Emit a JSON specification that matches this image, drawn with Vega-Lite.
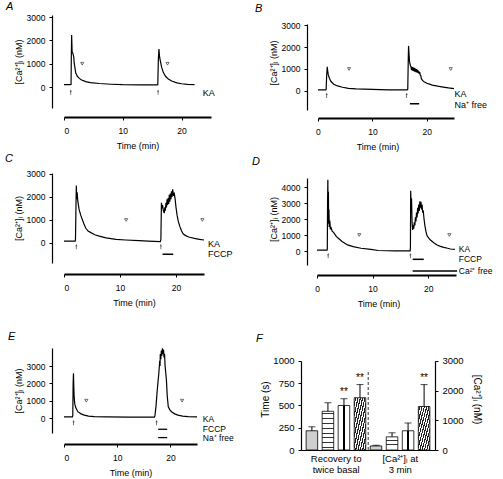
{
 "$schema": "https://vega.github.io/schema/vega-lite/v6.json",
 "padding": {"left": 5, "top": 1, "right": 0, "bottom": 0},
 "background": "white",
 "config": {
  "font": "Liberation Sans",
  "view": {"stroke": null},
  "axis": {"domainColor": "#000", "domainWidth": 1.2, "tickColor": "#000", "tickSize": 3, "labelColor": "#000", "labelFontSize": 8.5, "titleColor": "#000", "titleFontSize": 9, "titleFontWeight": "normal", "grid": false, "labelPadding": 4, "titlePadding": 3, "labelOverlap": false, "labelBound": false},
  "axisX": {"labelPadding": 6, "titlePadding": 7, "domainWidth": 2},
  "title": {"fontSize": 11, "fontStyle": "italic", "fontWeight": "normal", "anchor": "start", "frame": "group", "color": "#000"},
  "text": {"color": "#000"}
 },
 "datasets": {
  "trA": [{"t":0,"ca":100},{"t":1.0,"ca":100},{"t":1.2,"ca":110},{"t":1.25,"ca":1400},{"t":1.3,"ca":2230},{"t":1.38,"ca":1500},{"t":1.5,"ca":1450},{"t":1.65,"ca":1300},{"t":1.75,"ca":1000},{"t":2.0,"ca":600},{"t":2.3,"ca":450},{"t":2.6,"ca":370},{"t":3.0,"ca":300},{"t":3.7,"ca":230},{"t":4.5,"ca":190},{"t":6,"ca":150},{"t":8,"ca":120},{"t":10,"ca":100},{"t":13,"ca":90},{"t":15.8,"ca":90},{"t":15.95,"ca":100},{"t":16.05,"ca":1200},{"t":16.15,"ca":1630},{"t":16.25,"ca":1300},{"t":16.4,"ca":1100},{"t":16.6,"ca":850},{"t":16.9,"ca":620},{"t":17.3,"ca":450},{"t":17.8,"ca":330},{"t":18.4,"ca":250},{"t":19.2,"ca":180},{"t":20,"ca":140},{"t":21,"ca":110},{"t":22.2,"ca":100}],
  "trB": [{"t":0,"ca":50},{"t":1.4,"ca":50},{"t":1.5,"ca":60},{"t":1.6,"ca":700},{"t":1.7,"ca":1100},{"t":1.8,"ca":900},{"t":1.9,"ca":730},{"t":2.1,"ca":580},{"t":2.4,"ca":430},{"t":2.9,"ca":310},{"t":3.6,"ca":230},{"t":4.5,"ca":170},{"t":5.6,"ca":120},{"t":7,"ca":95},{"t":10,"ca":75},{"t":13,"ca":55},{"t":16.4,"ca":50},{"t":16.5,"ca":80},{"t":16.6,"ca":1500},{"t":16.65,"ca":2050},{"t":16.75,"ca":1600},{"t":16.85,"ca":1300},{"t":17.0,"ca":1150},{"t":17.1,"ca":1100},{"t":17.2,"ca":950},{"t":17.3,"ca":1100},{"t":17.4,"ca":920},{"t":17.5,"ca":1080},{"t":17.6,"ca":900},{"t":17.7,"ca":1050},{"t":17.8,"ca":880},{"t":17.9,"ca":1020},{"t":18.0,"ca":860},{"t":18.1,"ca":1000},{"t":18.2,"ca":840},{"t":18.3,"ca":960},{"t":18.4,"ca":820},{"t":18.5,"ca":920},{"t":18.6,"ca":780},{"t":18.7,"ca":860},{"t":18.8,"ca":720},{"t":18.9,"ca":700},{"t":19.0,"ca":560},{"t":19.2,"ca":480},{"t":19.5,"ca":420},{"t":20,"ca":350},{"t":20.5,"ca":310},{"t":21,"ca":270},{"t":22,"ca":220},{"t":23,"ca":180},{"t":24,"ca":140},{"t":25,"ca":110}],
  "trC": [{"t":0,"ca":80},{"t":2.0,"ca":80},{"t":2.05,"ca":150},{"t":2.15,"ca":1800},{"t":2.2,"ca":2500},{"t":2.28,"ca":1900},{"t":2.35,"ca":2200},{"t":2.45,"ca":1850},{"t":2.7,"ca":1450},{"t":3.0,"ca":1200},{"t":3.3,"ca":1000},{"t":3.6,"ca":800},{"t":3.9,"ca":640},{"t":4.3,"ca":520},{"t":4.8,"ca":450},{"t":5.5,"ca":360},{"t":6.3,"ca":300},{"t":7.5,"ca":220},{"t":9.3,"ca":160},{"t":11,"ca":130},{"t":13.4,"ca":100},{"t":15,"ca":80},{"t":17.2,"ca":60},{"t":17.3,"ca":150},{"t":17.4,"ca":1750},{"t":17.5,"ca":1500},{"t":17.6,"ca":1650},{"t":17.75,"ca":1400},{"t":17.9,"ca":1300},{"t":18.0,"ca":1550},{"t":18.1,"ca":1400},{"t":18.2,"ca":1750},{"t":18.3,"ca":1550},{"t":18.4,"ca":1900},{"t":18.5,"ca":1650},{"t":18.6,"ca":1950},{"t":18.7,"ca":1700},{"t":18.8,"ca":2100},{"t":18.9,"ca":1800},{"t":19.0,"ca":2150},{"t":19.1,"ca":1900},{"t":19.2,"ca":2250},{"t":19.3,"ca":2000},{"t":19.4,"ca":2330},{"t":19.55,"ca":2100},{"t":19.7,"ca":2150},{"t":19.85,"ca":1900},{"t":20.0,"ca":1550},{"t":20.2,"ca":1200},{"t":20.4,"ca":950},{"t":20.7,"ca":710},{"t":21.0,"ca":520},{"t":21.3,"ca":390},{"t":21.8,"ca":310},{"t":22.4,"ca":250},{"t":23.3,"ca":200},{"t":24.2,"ca":160},{"t":25,"ca":130}],
  "trD": [{"t":0,"ca":50},{"t":1.8,"ca":50},{"t":1.85,"ca":100},{"t":1.9,"ca":3000},{"t":1.95,"ca":4450},{"t":2.0,"ca":2000},{"t":2.05,"ca":3700},{"t":2.1,"ca":1700},{"t":2.15,"ca":2600},{"t":2.2,"ca":1500},{"t":2.3,"ca":1900},{"t":2.4,"ca":1350},{"t":2.5,"ca":1500},{"t":2.7,"ca":1250},{"t":3.0,"ca":1150},{"t":3.5,"ca":900},{"t":4.0,"ca":750},{"t":4.5,"ca":600},{"t":5.0,"ca":480},{"t":5.5,"ca":380},{"t":6.5,"ca":270},{"t":7.9,"ca":170},{"t":9.7,"ca":100},{"t":11,"ca":30},{"t":14,"ca":10},{"t":16.75,"ca":10},{"t":16.8,"ca":200},{"t":16.85,"ca":3770},{"t":16.95,"ca":2500},{"t":17.0,"ca":3300},{"t":17.1,"ca":1800},{"t":17.2,"ca":1310},{"t":17.3,"ca":1600},{"t":17.4,"ca":1400},{"t":17.5,"ca":1800},{"t":17.6,"ca":1600},{"t":17.7,"ca":2100},{"t":17.8,"ca":1850},{"t":17.9,"ca":2400},{"t":18.0,"ca":2100},{"t":18.1,"ca":2700},{"t":18.2,"ca":2350},{"t":18.3,"ca":2900},{"t":18.4,"ca":2500},{"t":18.5,"ca":3100},{"t":18.6,"ca":2700},{"t":18.7,"ca":3080},{"t":18.8,"ca":2600},{"t":18.9,"ca":2900},{"t":19.0,"ca":2400},{"t":19.1,"ca":2550},{"t":19.25,"ca":2000},{"t":19.4,"ca":1600},{"t":19.6,"ca":1210},{"t":19.8,"ca":950},{"t":20.1,"ca":800},{"t":20.4,"ca":690},{"t":21,"ca":520},{"t":21.6,"ca":375},{"t":22.2,"ca":290},{"t":22.8,"ca":230},{"t":23.5,"ca":170},{"t":24,"ca":125},{"t":24.8,"ca":100}],
  "trE": [{"t":0,"ca":60},{"t":1.6,"ca":60},{"t":1.65,"ca":150},{"t":1.72,"ca":2000},{"t":1.78,"ca":2580},{"t":1.84,"ca":1800},{"t":1.9,"ca":1300},{"t":2.0,"ca":850},{"t":2.2,"ca":600},{"t":2.6,"ca":365},{"t":3.2,"ca":240},{"t":3.8,"ca":170},{"t":4.6,"ca":110},{"t":5.7,"ca":77},{"t":8,"ca":60},{"t":12,"ca":55},{"t":17.0,"ca":50},{"t":17.1,"ca":150},{"t":17.3,"ca":700},{"t":17.5,"ca":1500},{"t":17.7,"ca":2190},{"t":17.8,"ca":2500},{"t":17.9,"ca":2900},{"t":18.0,"ca":3300},{"t":18.05,"ca":3000},{"t":18.1,"ca":3700},{"t":18.2,"ca":3400},{"t":18.3,"ca":3900},{"t":18.4,"ca":3600},{"t":18.5,"ca":4020},{"t":18.6,"ca":3700},{"t":18.7,"ca":3950},{"t":18.8,"ca":3500},{"t":18.9,"ca":3700},{"t":19.0,"ca":3000},{"t":19.1,"ca":2700},{"t":19.25,"ca":2190},{"t":19.4,"ca":1300},{"t":19.6,"ca":650},{"t":19.9,"ca":470},{"t":20.2,"ca":365},{"t":20.8,"ca":240},{"t":21.4,"ca":170},{"t":22.3,"ca":110},{"t":23.3,"ca":77},{"t":25,"ca":60}],
  "anA": [{"kind":"stim","t":1.15,"ca":-220},{"kind":"stim","t":16.0,"ca":-220},{"kind":"rec","t":3.1,"ca":1000},{"kind":"rec","t":17.6,"ca":1000},{"kind":"label","t":23.6,"ca":-270,"text":"KA"}],
  "anB": [{"kind":"stim","t":1.6,"ca":-200},{"kind":"stim","t":16.3,"ca":-200},{"kind":"rec","t":5.7,"ca":1000},{"kind":"rec","t":24.4,"ca":1000},{"kind":"bar","t":16.9,"t2":18.6,"ca":-580},{"kind":"label","t":25.1,"ca":-130,"text":"KA"},{"kind":"label","t":25.1,"ca":-620,"text":"Na⁺ free"}],
  "anC": [{"kind":"stim","t":2.2,"ca":-160},{"kind":"stim","t":17.3,"ca":-160},{"kind":"rec","t":11.1,"ca":1000},{"kind":"rec","t":24.7,"ca":1000},{"kind":"bar","t":17.6,"t2":19.5,"ca":-490},{"kind":"label","t":25.7,"ca":-40,"text":"KA"},{"kind":"label","t":25.7,"ca":-500,"text":"FCCP"}],
  "anD": [{"kind":"stim","t":2.0,"ca":-290},{"kind":"stim","t":16.8,"ca":-290},{"kind":"rec","t":7.6,"ca":1000},{"kind":"rec","t":23.8,"ca":1000},{"kind":"bar","t":17.2,"t2":19.2,"ca":-520},{"kind":"bar","t":17.2,"t2":25.2,"ca":-1250},{"kind":"label","t":25.5,"ca":130,"text":"KA"},{"kind":"label","t":25.5,"ca":-470,"text":"FCCP"},{"kind":"label","t":25.5,"ca":-1250,"text":"Ca²⁺ free"}],
  "anE": [{"kind":"stim","t":1.8,"ca":-270},{"kind":"stim","t":17.4,"ca":-270},{"kind":"rec","t":4.2,"ca":1000},{"kind":"rec","t":22.2,"ca":1000},{"kind":"bar","t":17.7,"t2":19.4,"ca":-650},{"kind":"bar","t":17.7,"t2":19.4,"ca":-1130},{"kind":"label","t":26.1,"ca":-60,"text":"KA"},{"kind":"label","t":26.1,"ca":-620,"text":"FCCP"},{"kind":"label","t":26.1,"ca":-1160,"text":"Na⁺ free"}],
  "barsF": [{"bar":"R1","grp":"time","value":216,"upper":261,"sig":""},{"bar":"R2","grp":"time","value":435,"upper":531,"sig":""},{"bar":"R3","grp":"time","value":500,"upper":576,"sig":"**"},{"bar":"R4","grp":"time","value":587,"upper":735,"sig":"**"},{"bar":"C1","grp":"ca","value":136,"upper":160,"sig":""},{"bar":"C2","grp":"ca","value":443,"upper":580,"sig":""},{"bar":"C3","grp":"ca","value":648,"upper":910,"sig":""},{"bar":"C4","grp":"ca","value":1466,"upper":2205,"sig":"**"}]
 },
 "columns": 3,
 "align": "none",
 "bounds": "flush",
 "spacing": {"row": 0, "column": 0},
 "concat": [
  {"title": {"text": "A", "dx": -58, "dy": 3},
   "width": 147, "height": 93,
   "encoding": {"x": {"field": "t", "type": "quantitative", "scale": {"domain": [0, 25], "nice": false}, "axis": {"values": [0, 10, 20], "title": "Time (min)", "offset": 9, "labelOverlap": false}},
                "y": {"field": "ca", "type": "quantitative", "scale": {"domain": [-900, 3090], "nice": false, "zero": false}, "axis": {"values": [0, 1000, 2000, 3000], "format": "d", "title": "[Ca²⁺]ᵢ (nM)", "offset": 12, "labelOverlap": false}}},
   "layer": [
    {"data": {"name": "trA"}, "mark": {"type": "line", "color": "black", "strokeWidth": 1.2}},
    {"data": {"name": "anA"}, "transform": [{"filter": "datum.kind == 'stim'"}], "mark": {"type": "point", "shape": "arrow", "size": 28, "filled": true, "color": "black"}},
    {"data": {"name": "anA"}, "transform": [{"filter": "datum.kind == 'rec'"}], "mark": {"type": "point", "shape": "triangle-down", "size": 10, "filled": false, "color": "black", "strokeWidth": 0.8}},
    {"data": {"name": "anA"}, "transform": [{"filter": "datum.kind == 'label'"}], "mark": {"type": "text", "align": "left", "baseline": "middle", "fontSize": 9}, "encoding": {"text": {"field": "text"}}}
   ]},
  {"width": 90, "height": 1, "data": {"values": []}, "mark": "point"},
  {"title": {"text": "B", "dx": -46, "dy": 3},
   "width": 153, "height": 95,
   "encoding": {"x": {"field": "t", "type": "quantitative", "scale": {"domain": [-3.12, 25], "nice": false, "zero": false}, "axis": {"values": [0, 10, 20], "title": "Time (min)", "offset": 8, "domainDash": [0, 17, 400], "labelOverlap": false}},
                "y": {"field": "ca", "type": "quantitative", "scale": {"domain": [-864, 3455], "nice": false, "zero": false}, "axis": {"values": [0, 1000, 2000, 3000], "format": "d", "title": "[Ca²⁺]ᵢ (nM)", "offset": -6, "domainDash": [86, 400], "labelOverlap": false}}},
   "layer": [
    {"data": {"name": "trB"}, "mark": {"type": "line", "color": "black", "strokeWidth": 1.2}},
    {"data": {"name": "anB"}, "transform": [{"filter": "datum.kind == 'stim'"}], "mark": {"type": "point", "shape": "arrow", "size": 28, "filled": true, "color": "black"}},
    {"data": {"name": "anB"}, "transform": [{"filter": "datum.kind == 'rec'"}], "mark": {"type": "point", "shape": "triangle-down", "size": 10, "filled": false, "color": "black", "strokeWidth": 0.8}},
    {"data": {"name": "anB"}, "transform": [{"filter": "datum.kind == 'bar'"}], "mark": {"type": "rule", "color": "black", "strokeWidth": 1.5}, "encoding": {"x2": {"field": "t2"}}},
    {"data": {"name": "anB"}, "transform": [{"filter": "datum.kind == 'label'"}], "mark": {"type": "text", "align": "left", "baseline": "middle", "fontSize": 9}, "encoding": {"text": {"field": "text"}}}
   ]},

  {"width": 1, "height": 63, "data": {"values": []}, "mark": "point"},
  {"width": 1, "height": 63, "data": {"values": []}, "mark": "point"},
  {"width": 1, "height": 63, "data": {"values": []}, "mark": "point"},

  {"title": {"text": "C", "dx": -59, "dy": -2},
   "width": 140, "height": 90,
   "encoding": {"x": {"field": "t", "type": "quantitative", "scale": {"domain": [0, 25], "nice": false}, "axis": {"values": [0, 10, 20], "title": "Time (min)", "offset": 11, "labelOverlap": false}},
                "y": {"field": "ca", "type": "quantitative", "scale": {"domain": [-870, 3043], "nice": false, "zero": false}, "axis": {"values": [0, 1000, 2000, 3000], "format": "d", "title": "[Ca²⁺]ᵢ (nM)", "offset": 12, "labelOverlap": false}}},
   "layer": [
    {"data": {"name": "trC"}, "mark": {"type": "line", "color": "black", "strokeWidth": 1.2}},
    {"data": {"name": "anC"}, "transform": [{"filter": "datum.kind == 'stim'"}], "mark": {"type": "point", "shape": "arrow", "size": 28, "filled": true, "color": "black"}},
    {"data": {"name": "anC"}, "transform": [{"filter": "datum.kind == 'rec'"}], "mark": {"type": "point", "shape": "triangle-down", "size": 10, "filled": false, "color": "black", "strokeWidth": 0.8}},
    {"data": {"name": "anC"}, "transform": [{"filter": "datum.kind == 'bar'"}], "mark": {"type": "rule", "color": "black", "strokeWidth": 1.5}, "encoding": {"x2": {"field": "t2"}}},
    {"data": {"name": "anC"}, "transform": [{"filter": "datum.kind == 'label'"}], "mark": {"type": "text", "align": "left", "baseline": "middle", "fontSize": 9}, "encoding": {"text": {"field": "text"}}}
   ]},
  {"width": 1, "height": 1, "data": {"values": []}, "mark": "point"},
  {"title": {"text": "D", "dx": -49, "dy": -2},
   "width": 155, "height": 92,
   "encoding": {"x": {"field": "t", "type": "quantitative", "scale": {"domain": [-2.88, 25], "nice": false, "zero": false}, "axis": {"values": [0, 10, 20], "title": "Time (min)", "offset": 10, "domainDash": [0, 16, 400], "labelOverlap": false}},
                "y": {"field": "ca", "type": "quantitative", "scale": {"domain": [-875, 4875], "nice": false, "zero": false}, "axis": {"values": [0, 1000, 2000, 3000, 4000], "format": "d", "title": "[Ca²⁺]ᵢ (nM)", "offset": -6, "domainDash": [87, 400], "labelOverlap": false}}},
   "layer": [
    {"data": {"name": "trD"}, "mark": {"type": "line", "color": "black", "strokeWidth": 1.2}},
    {"data": {"name": "anD"}, "transform": [{"filter": "datum.kind == 'stim'"}], "mark": {"type": "point", "shape": "arrow", "size": 28, "filled": true, "color": "black"}},
    {"data": {"name": "anD"}, "transform": [{"filter": "datum.kind == 'rec'"}], "mark": {"type": "point", "shape": "triangle-down", "size": 10, "filled": false, "color": "black", "strokeWidth": 0.8}},
    {"data": {"name": "anD"}, "transform": [{"filter": "datum.kind == 'bar'"}], "mark": {"type": "rule", "color": "black", "strokeWidth": 1.5}, "encoding": {"x2": {"field": "t2"}}},
    {"data": {"name": "anD"}, "transform": [{"filter": "datum.kind == 'label'"}], "mark": {"type": "text", "align": "left", "baseline": "middle", "fontSize": 8.5}, "encoding": {"text": {"field": "text"}}}
   ]},

  {"width": 1, "height": 83, "data": {"values": []}, "mark": "point"},
  {"width": 1, "height": 83, "data": {"values": []}, "mark": "point"},
  {"width": 1, "height": 83, "data": {"values": []}, "mark": "point"},

  {"title": {"text": "E", "dx": -56, "dy": 0},
   "width": 133, "height": 85,
   "encoding": {"x": {"field": "t", "type": "quantitative", "scale": {"domain": [0, 25], "nice": false}, "axis": {"values": [0, 10, 20], "title": "Time (min)", "offset": 11, "labelOverlap": false}},
                "y": {"field": "ca", "type": "quantitative", "scale": {"domain": [-865, 4040], "nice": false, "zero": false}, "axis": {"values": [0, 1000, 2000, 3000], "format": "d", "title": "[Ca²⁺]ᵢ (nM)", "offset": 12, "labelOverlap": false}}},
   "layer": [
    {"data": {"name": "trE"}, "mark": {"type": "line", "color": "black", "strokeWidth": 1.2}},
    {"data": {"name": "anE"}, "transform": [{"filter": "datum.kind == 'stim'"}], "mark": {"type": "point", "shape": "arrow", "size": 28, "filled": true, "color": "black"}},
    {"data": {"name": "anE"}, "transform": [{"filter": "datum.kind == 'rec'"}], "mark": {"type": "point", "shape": "triangle-down", "size": 10, "filled": false, "color": "black", "strokeWidth": 0.8}},
    {"data": {"name": "anE"}, "transform": [{"filter": "datum.kind == 'bar'"}], "mark": {"type": "rule", "color": "black", "strokeWidth": 1.3}, "encoding": {"x2": {"field": "t2"}}},
    {"data": {"name": "anE"}, "transform": [{"filter": "datum.kind == 'label'"}], "mark": {"type": "text", "align": "left", "baseline": "middle", "fontSize": 8.5}, "encoding": {"text": {"field": "text"}}}
   ]},
  {"width": 1, "height": 1, "data": {"values": []}, "mark": "point"},
  {"title": {"text": "F", "dx": -45, "dy": 0},
   "width": 134, "height": 102,
   "data": {"name": "barsF"},
   "layer": [
    {"encoding": {
      "x": {"field": "bar", "type": "nominal", "scale": {"domain": ["R1","R2","R3","R4","C1","C2","C3","C4"], "paddingInner": 0.28, "paddingOuter": 0.32}, "axis": {"title": null, "ticks": false, "domainWidth": 1.2, "labelAngle": 0, "labelOverlap": false, "labelOffset": 8.2, "labelPadding": 3, "labelFontSize": 9.5, "labelLineHeight": 11, "labelBaseline": "top", "labelExpr": "datum.value == 'R2' ? ['Recovery to', 'twice basal'] : datum.value == 'C2' ? ['[Ca²⁺]ᵢ at', '3 min'] : ''"}},
      "y": {"field": "value", "type": "quantitative", "scale": {"domain": [0, 1146], "nice": false}, "axis": {"values": [0, 250, 500, 750, 1000], "format": "d", "title": "Time (s)", "labelFontSize": 9.5, "titleFontSize": 10, "titlePadding": 2, "domainDash": [89, 400], "labelOverlap": false}}},
     "layer": [
      {"transform": [{"filter": "datum.bar == 'R1'"}], "mark": {"type": "bar", "fill": "#cfcfcf", "stroke": "black", "strokeWidth": 0.8}},
      {"transform": [{"filter": "datum.bar == 'R2'"}], "mark": {"type": "bar", "stroke": "black", "strokeWidth": 0.8, "fill": {"gradient": "linear", "x1": 0, "y1": 0, "x2": 0, "y2": 1, "stops": [{"offset":0,"color":"white"},{"offset":0.05,"color":"white"},{"offset":0.05,"color":"#333"},{"offset":0.08,"color":"#333"},{"offset":0.08,"color":"white"},{"offset":0.17,"color":"white"},{"offset":0.17,"color":"#333"},{"offset":0.2,"color":"#333"},{"offset":0.2,"color":"white"},{"offset":0.3,"color":"white"},{"offset":0.3,"color":"#333"},{"offset":0.33,"color":"#333"},{"offset":0.33,"color":"white"},{"offset":0.42,"color":"white"},{"offset":0.42,"color":"#333"},{"offset":0.45,"color":"#333"},{"offset":0.45,"color":"white"},{"offset":0.55,"color":"white"},{"offset":0.55,"color":"#333"},{"offset":0.58,"color":"#333"},{"offset":0.58,"color":"white"},{"offset":0.67,"color":"white"},{"offset":0.67,"color":"#333"},{"offset":0.7,"color":"#333"},{"offset":0.7,"color":"white"},{"offset":0.8,"color":"white"},{"offset":0.8,"color":"#333"},{"offset":0.83,"color":"#333"},{"offset":0.83,"color":"white"},{"offset":0.92,"color":"white"},{"offset":0.92,"color":"#333"},{"offset":0.95,"color":"#333"},{"offset":0.95,"color":"white"},{"offset":1,"color":"white"}]}}},
      {"transform": [{"filter": "datum.bar == 'R3'"}], "mark": {"type": "bar", "stroke": "black", "strokeWidth": 0.8, "fill": {"gradient": "linear", "x1": 0, "y1": 0, "x2": 1, "y2": 0, "stops": [{"offset":0,"color":"white"},{"offset":0.45,"color":"white"},{"offset":0.45,"color":"black"},{"offset":0.55,"color":"black"},{"offset":0.55,"color":"white"},{"offset":1,"color":"white"}]}}},
      {"transform": [{"filter": "datum.bar == 'R4'"}], "mark": {"type": "bar", "stroke": "black", "strokeWidth": 0.8, "fill": {"gradient": "linear", "x1": 0, "y1": 0, "x2": 1, "y2": 1, "stops": [{"offset":0,"color":"white"},{"offset":0.04,"color":"white"},{"offset":0.04,"color":"#222"},{"offset":0.09,"color":"#222"},{"offset":0.09,"color":"white"},{"offset":0.14,"color":"white"},{"offset":0.14,"color":"#222"},{"offset":0.19,"color":"#222"},{"offset":0.19,"color":"white"},{"offset":0.24,"color":"white"},{"offset":0.24,"color":"#222"},{"offset":0.29,"color":"#222"},{"offset":0.29,"color":"white"},{"offset":0.34,"color":"white"},{"offset":0.34,"color":"#222"},{"offset":0.39,"color":"#222"},{"offset":0.39,"color":"white"},{"offset":0.44,"color":"white"},{"offset":0.44,"color":"#222"},{"offset":0.49,"color":"#222"},{"offset":0.49,"color":"white"},{"offset":0.54,"color":"white"},{"offset":0.54,"color":"#222"},{"offset":0.59,"color":"#222"},{"offset":0.59,"color":"white"},{"offset":0.64,"color":"white"},{"offset":0.64,"color":"#222"},{"offset":0.69,"color":"#222"},{"offset":0.69,"color":"white"},{"offset":0.74,"color":"white"},{"offset":0.74,"color":"#222"},{"offset":0.79,"color":"#222"},{"offset":0.79,"color":"white"},{"offset":0.84,"color":"white"},{"offset":0.84,"color":"#222"},{"offset":0.89,"color":"#222"},{"offset":0.89,"color":"white"},{"offset":0.94,"color":"white"},{"offset":0.94,"color":"#222"},{"offset":0.99,"color":"#222"},{"offset":0.99,"color":"white"},{"offset":1,"color":"white"}]}}},
      {"transform": [{"filter": "datum.grp == 'time'"}], "mark": {"type": "rule", "color": "black", "strokeWidth": 1}, "encoding": {"y2": {"field": "upper"}}},
      {"transform": [{"filter": "datum.grp == 'time'"}], "mark": {"type": "tick", "color": "black", "thickness": 1, "size": 7}, "encoding": {"y": {"field": "upper", "type": "quantitative"}}},
      {"transform": [{"filter": "datum.grp == 'time'"}], "mark": {"type": "text", "baseline": "middle", "dy": -7, "fontSize": 10}, "encoding": {"y": {"field": "upper", "type": "quantitative"}, "text": {"field": "sig"}}},
      {"transform": [{"filter": "datum.bar == 'R4'"}], "mark": {"type": "rule", "color": "black", "strokeWidth": 0.8, "strokeDash": [3, 2], "xOffset": 8.2}, "encoding": {"y": {"datum": 0}, "y2": {"datum": 880}}}
     ]},
    {"encoding": {
      "x": {"field": "bar", "type": "nominal", "scale": {"domain": ["R1","R2","R3","R4","C1","C2","C3","C4"], "paddingInner": 0.28, "paddingOuter": 0.32}, "axis": {"title": null, "ticks": false, "domainWidth": 1.2, "labelAngle": 0, "labelOverlap": false, "labelOffset": 8.2, "labelPadding": 3, "labelFontSize": 9.5, "labelLineHeight": 11, "labelBaseline": "top", "labelExpr": "datum.value == 'R2' ? ['Recovery to', 'twice basal'] : datum.value == 'C2' ? ['[Ca²⁺]ᵢ at', '3 min'] : ''"}},
      "y": {"field": "value", "type": "quantitative", "scale": {"domain": [0, 3438], "nice": false}, "axis": {"orient": "right", "values": [0, 1000, 2000, 3000], "format": "d", "title": "[Ca²⁺]ᵢ (nM)", "labelFontSize": 9.5, "titleFontSize": 10, "titlePadding": 8, "domainDash": [89, 400], "labelOverlap": false}}},
     "layer": [
      {"transform": [{"filter": "datum.bar == 'C1'"}], "mark": {"type": "bar", "fill": "#cfcfcf", "stroke": "black", "strokeWidth": 0.8}},
      {"transform": [{"filter": "datum.bar == 'C2'"}], "mark": {"type": "bar", "stroke": "black", "strokeWidth": 0.8, "fill": {"gradient": "linear", "x1": 0, "y1": 0, "x2": 0, "y2": 1, "stops": [{"offset":0,"color":"white"},{"offset":0.22,"color":"white"},{"offset":0.22,"color":"#333"},{"offset":0.3,"color":"#333"},{"offset":0.3,"color":"white"},{"offset":0.55,"color":"white"},{"offset":0.55,"color":"#333"},{"offset":0.63,"color":"#333"},{"offset":0.63,"color":"white"},{"offset":1,"color":"white"}]}}},
      {"transform": [{"filter": "datum.bar == 'C3'"}], "mark": {"type": "bar", "stroke": "black", "strokeWidth": 0.8, "fill": {"gradient": "linear", "x1": 0, "y1": 0, "x2": 1, "y2": 0, "stops": [{"offset":0,"color":"white"},{"offset":0.45,"color":"white"},{"offset":0.45,"color":"black"},{"offset":0.55,"color":"black"},{"offset":0.55,"color":"white"},{"offset":1,"color":"white"}]}}},
      {"transform": [{"filter": "datum.bar == 'C4'"}], "mark": {"type": "bar", "stroke": "black", "strokeWidth": 0.8, "fill": {"gradient": "linear", "x1": 0, "y1": 0, "x2": 1, "y2": 1, "stops": [{"offset":0,"color":"white"},{"offset":0.04,"color":"white"},{"offset":0.04,"color":"#222"},{"offset":0.09,"color":"#222"},{"offset":0.09,"color":"white"},{"offset":0.14,"color":"white"},{"offset":0.14,"color":"#222"},{"offset":0.19,"color":"#222"},{"offset":0.19,"color":"white"},{"offset":0.24,"color":"white"},{"offset":0.24,"color":"#222"},{"offset":0.29,"color":"#222"},{"offset":0.29,"color":"white"},{"offset":0.34,"color":"white"},{"offset":0.34,"color":"#222"},{"offset":0.39,"color":"#222"},{"offset":0.39,"color":"white"},{"offset":0.44,"color":"white"},{"offset":0.44,"color":"#222"},{"offset":0.49,"color":"#222"},{"offset":0.49,"color":"white"},{"offset":0.54,"color":"white"},{"offset":0.54,"color":"#222"},{"offset":0.59,"color":"#222"},{"offset":0.59,"color":"white"},{"offset":0.64,"color":"white"},{"offset":0.64,"color":"#222"},{"offset":0.69,"color":"#222"},{"offset":0.69,"color":"white"},{"offset":0.74,"color":"white"},{"offset":0.74,"color":"#222"},{"offset":0.79,"color":"#222"},{"offset":0.79,"color":"white"},{"offset":0.84,"color":"white"},{"offset":0.84,"color":"#222"},{"offset":0.89,"color":"#222"},{"offset":0.89,"color":"white"},{"offset":0.94,"color":"white"},{"offset":0.94,"color":"#222"},{"offset":0.99,"color":"#222"},{"offset":0.99,"color":"white"},{"offset":1,"color":"white"}]}}},
      {"transform": [{"filter": "datum.grp == 'ca'"}], "mark": {"type": "rule", "color": "black", "strokeWidth": 1}, "encoding": {"y2": {"field": "upper"}}},
      {"transform": [{"filter": "datum.grp == 'ca'"}], "mark": {"type": "tick", "color": "black", "thickness": 1, "size": 7}, "encoding": {"y": {"field": "upper", "type": "quantitative"}}},
      {"transform": [{"filter": "datum.grp == 'ca'"}], "mark": {"type": "text", "baseline": "middle", "dy": -7, "fontSize": 10}, "encoding": {"y": {"field": "upper", "type": "quantitative"}, "text": {"field": "sig"}}}
     ]}
   ],
   "resolve": {"scale": {"y": "independent"}, "axis": {"y": "independent"}}}
 ]
}
